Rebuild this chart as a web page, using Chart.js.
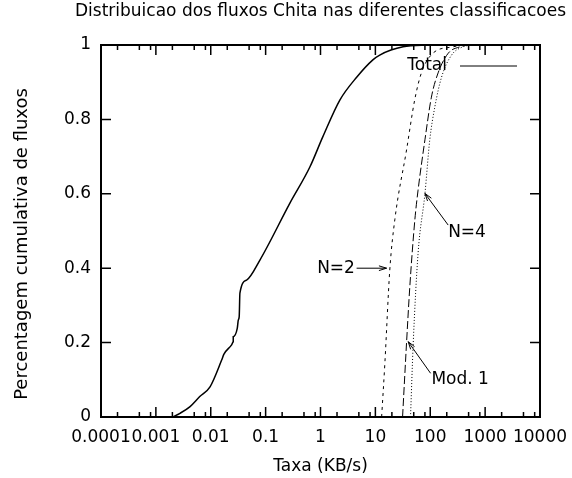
<!DOCTYPE html>
<html lang="pt">
<head>
<meta charset="UTF-8">
<title>Distribuicao dos fluxos Chita</title>
<style>
  html, body { margin: 0; padding: 0; background: #ffffff; }
  #chart { display: block; }
</style>
</head>
<body>
<canvas id="chart" width="572" height="478"></canvas>
<script src="https://cdn.jsdelivr.net/npm/chart.js"></script>
<script>
// x tick decades and their labels
const xTickValues = [0.0001, 0.001, 0.01, 0.1, 1, 10, 100, 1000, 10000];
const xTickLabels = ['0.0001', '0.001', '0.01', '0.1', '1', '10', '100', '1000', '10000'];
const xMinorSteps = [2, 5, 8];
const yTickLabels = ['0', '0.2', '0.4', '0.6', '0.8', '1'];

// Total (solid)
const totalX = [0.002, 0.00275, 0.0042, 0.0063, 0.0097, 0.0158, 0.0174, 0.024, 0.0257, 0.0257, 0.0304, 0.0318, 0.033, 0.034, 0.045, 0.0787, 0.277, 0.64, 1.1, 2.25, 4.6, 9, 12, 32, 100];
const totalY = [0, 0.01, 0.028, 0.055, 0.081, 0.153, 0.169, 0.194, 0.202, 0.216, 0.238, 0.261, 0.27, 0.333, 0.368, 0.422, 0.575, 0.672, 0.753, 0.852, 0.914, 0.96, 0.973, 0.995, 1];

// N=2 (short dashes)
const n2X = [13, 14.9, 18.3, 22.6, 37, 52, 69, 112, 257, 400];
const n2Y = [0, 0.145, 0.395, 0.53, 0.718, 0.852, 0.925, 0.978, 0.995, 1];

// Mod. 1 (long dashes)
const mod1X = [31.3, 37, 42.4, 52.4, 60, 80, 105, 139, 213, 345, 500];
const mod1Y = [0, 0.2, 0.35, 0.53, 0.61, 0.745, 0.86, 0.925, 0.978, 0.995, 1];

// N=4 (dotted)
const n4X = [43.7, 49, 60, 80, 98, 121, 161, 245, 392, 600];
const n4Y = [0, 0.2, 0.44, 0.6, 0.745, 0.833, 0.914, 0.973, 0.995, 1];

// labels with arrows, in data coordinates
const notes = [
  { text: 'N=2', align: 'right', lx: 4.24, ly: 0.40, fx: 4.55, fy: 0.40, tx: 16, ty: 0.40 },
  { text: 'N=4', align: 'left', lx: 212, ly: 0.495, fx: 212, fy: 0.516, tx: 80, ty: 0.601 },
  { text: 'Mod. 1', align: 'left', lx: 105, ly: 0.0995, fx: 101.4, fy: 0.1175, tx: 39.6, ty: 0.2024 }
];

const chartTitle = 'Distribuicao dos fluxos Chita nas diferentes classificacoes';
const FONT = 'DejaVu Sans';
const FSIZE = 17;

function pts(xs, ys) {
  return xs.map((x, i) => ({ x: x, y: ys[i] }));
}

const framePlugin = {
  id: 'frame',
  afterDraw(chart) {
    const ctx = chart.ctx;
    const a = chart.chartArea;
    const xs = chart.scales.x;
    const ys = chart.scales.y;
    ctx.save();
    ctx.strokeStyle = '#000';

    // ticks, mirrored on both sides
    ctx.lineWidth = 1.5;
    ctx.beginPath();
    xTickValues.forEach((v, i) => {
      const px = xs.getPixelForValue(v);
      ctx.moveTo(px, a.bottom); ctx.lineTo(px, a.bottom - 10);
      ctx.moveTo(px, a.top); ctx.lineTo(px, a.top + 10);
      if (i < xTickValues.length - 1) {
        xMinorSteps.forEach(m => {
          const mp = xs.getPixelForValue(v * m);
          ctx.moveTo(mp, a.bottom); ctx.lineTo(mp, a.bottom - 5);
          ctx.moveTo(mp, a.top); ctx.lineTo(mp, a.top + 5);
        });
      }
    });
    yTickLabels.forEach((t, i) => {
      const py = ys.getPixelForValue(i * 0.2);
      ctx.moveTo(a.left, py); ctx.lineTo(a.left + 10, py);
      ctx.moveTo(a.right, py); ctx.lineTo(a.right - 10, py);
    });
    ctx.stroke();

    ctx.lineWidth = 2;
    ctx.strokeRect(a.left, a.top, a.right - a.left, a.bottom - a.top);

    ctx.fillStyle = '#000';
    ctx.textBaseline = 'middle';

    // title, centred over the plot
    ctx.font = FSIZE + 'px "' + FONT + '"';
    ctx.textAlign = 'center';
    ctx.fillText(chartTitle, (a.left + a.right) / 2, 12);

    // y axis title
    ctx.save();
    ctx.font = '18px "' + FONT + '"';
    ctx.translate(22, 244);
    ctx.rotate(-Math.PI / 2);
    ctx.textAlign = 'center';
    ctx.fillText('Percentagem cumulativa de fluxos', 0, 0);
    ctx.restore();

    // legend
    ctx.font = FSIZE + 'px "' + FONT + '"';
    ctx.textAlign = 'right';
    ctx.fillText('Total', a.right - 93, a.top + 21);
    ctx.lineWidth = 1;
    ctx.beginPath();
    ctx.moveTo(a.right - 80, a.top + 21);
    ctx.lineTo(a.right - 23, a.top + 21);
    ctx.stroke();

    // annotations
    notes.forEach(n => {
      ctx.textAlign = n.align;
      ctx.fillText(n.text, xs.getPixelForValue(n.lx), ys.getPixelForValue(n.ly));
      const x0 = xs.getPixelForValue(n.fx), y0 = ys.getPixelForValue(n.fy);
      const x1 = xs.getPixelForValue(n.tx), y1 = ys.getPixelForValue(n.ty);
      const ang = Math.atan2(y1 - y0, x1 - x0);
      const h = 8, w = 0.3;
      ctx.beginPath();
      ctx.moveTo(x0, y0); ctx.lineTo(x1, y1);
      ctx.moveTo(x1 - h * Math.cos(ang - w), y1 - h * Math.sin(ang - w));
      ctx.lineTo(x1, y1);
      ctx.lineTo(x1 - h * Math.cos(ang + w), y1 - h * Math.sin(ang + w));
      ctx.stroke();
    });
    ctx.restore();
  }
};

Chart.defaults.font.family = FONT;
Chart.defaults.font.size = FSIZE;
Chart.defaults.color = '#000';

new Chart(document.getElementById('chart'), {
  type: 'line',
  data: {
    datasets: [
      { label: 'Total', data: pts(totalX, totalY), borderColor: '#000', borderWidth: 1.5 },
      { label: 'N=2', data: pts(n2X, n2Y), borderColor: '#000', borderWidth: 1, borderDash: [3, 4] },
      { label: 'Mod. 1', data: pts(mod1X, mod1Y), borderColor: '#000', borderWidth: 1, borderDash: [8, 3] },
      { label: 'N=4', data: pts(n4X, n4Y), borderColor: '#000', borderWidth: 1, borderDash: [1, 2] }
    ]
  },
  options: {
    responsive: false,
    animation: false,
    devicePixelRatio: 1,
    cubicInterpolationMode: 'monotone',
    elements: { point: { radius: 0 } },
    layout: { padding: { left: 0, right: 32, top: 45, bottom: 0 } },
    plugins: {
      legend: { display: false },
      tooltip: { enabled: false },
      title: { display: false }
    },
    scales: {
      x: {
        type: 'logarithmic',
        min: 0.0001,
        max: 10000,
        grid: { display: false, drawTicks: false },
        border: { display: false },
        afterBuildTicks: s => { s.ticks = xTickValues.map(v => ({ value: v })); },
        afterFit: s => { s.height = 61; s.paddingLeft = 0; s.paddingRight = 0; },
        ticks: {
          autoSkip: false, maxRotation: 0, minRotation: 0, padding: 10,
          callback: (v, i) => xTickLabels[i]
        },
        title: { display: true, text: 'Taxa (KB/s)', padding: { top: 0, bottom: 1 } }
      },
      y: {
        min: 0,
        max: 1,
        grid: { display: false, drawTicks: false },
        border: { display: false },
        afterFit: s => { s.width = 101; s.paddingTop = 0; s.paddingBottom = 0; },
        ticks: { stepSize: 0.2, padding: 10, callback: (v, i) => yTickLabels[i] }
      }
    }
  },
  plugins: [framePlugin]
});
</script>
</body>
</html>
